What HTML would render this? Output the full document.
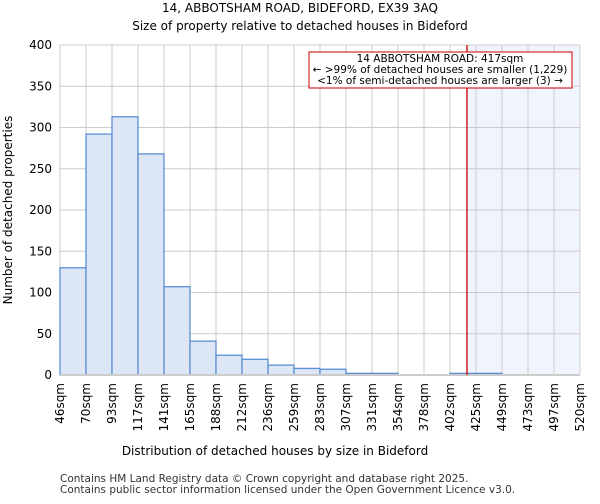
<!DOCTYPE html>
<html><head><meta charset="utf-8"><style>
body{margin:0;background:#fff;font-family:"DejaVu Sans","Liberation Sans",sans-serif;}
</style></head><body>
<svg width="600" height="500" xmlns="http://www.w3.org/2000/svg" font-family="DejaVu Sans, Liberation Sans, sans-serif">
<text x="300" y="12" text-anchor="middle" font-size="12">14, ABBOTSHAM ROAD, BIDEFORD, EX39 3AQ</text>
<text x="300" y="30" text-anchor="middle" font-size="12">Size of property relative to detached houses in Bideford</text>
<g id="plot"></g>
<text x="275" y="455" text-anchor="middle" font-size="12">Distribution of detached houses by size in Bideford</text>
<text transform="translate(12,210) rotate(-90)" text-anchor="middle" font-size="12">Number of detached properties</text>
<text x="60" y="482" font-size="10.5" fill="#333">Contains HM Land Registry data © Crown copyright and database right 2025.</text>
<text x="60" y="493" font-size="10.5" fill="#333">Contains public sector information licensed under the Open Government Licence v3.0.</text>
</svg>
<script>
const categories=["46sqm","70sqm","93sqm","117sqm","141sqm","165sqm","188sqm","212sqm","236sqm","259sqm","283sqm","307sqm","331sqm","354sqm","378sqm","402sqm","425sqm","449sqm","473sqm","497sqm","520sqm"];
const counts=[130,292,313,268,107,41,24,19,12,8,7,2,2,0,0,2,2,0,0,0];
const yTicks=[0,50,100,150,200,250,300,350,400];
const binEdges=[46,70,93,117,141,165,188,212,236,259,283,307,331,354,378,402,425,449,473,497,520];
const propertySize=417;
const NS="http://www.w3.org/2000/svg";
const g=document.getElementById('plot');
const X0=60,X1=580,Y0=375,Y1=45,yMax=400;
const bw=(X1-X0)/counts.length;
const xi=i=>X0+i*bw;
const y=v=>Y0-(v/yMax)*(Y0-Y1);
function sizeX(s){for(let i=0;i<binEdges.length-1;i++){if(s>=binEdges[i]&&s<=binEdges[i+1])return xi(i)+(s-binEdges[i])/(binEdges[i+1]-binEdges[i])*bw;}return X1;}
function mk(t,a){const e=document.createElementNS(NS,t);for(const k in a)e.setAttribute(k,a[k]);g.appendChild(e);return e;}
const px=sizeX(propertySize);
let e=mk('rect',{x:px,y:Y1,width:X1-px,height:Y0-Y1,fill:'#f0f4fc'});


for(const t of yTicks){e=mk('line',{x1:X0,x2:X1,y1:y(t),y2:y(t),stroke:'#ccc','stroke-width':1});


e=mk('text',{x:X0-8,y:y(t)+4,'text-anchor':'end','font-size':12});e.textContent=t;

}
for(let i=0;i<categories.length;i++){e=mk('line',{x1:xi(i),x2:xi(i),y1:Y1,y2:Y0,stroke:'#ccc','stroke-width':1});


e=mk('text',{transform:`translate(${xi(i)+4},${Y0+8}) rotate(-90)`,'text-anchor':'end','font-size':12});e.textContent=categories[i];

}
counts.forEach((c,i)=>{if(c<=0)return;e=mk('rect',{x:xi(i),y:y(c),width:bw,height:Y0-y(c),fill:'#dce6f4',stroke:'#5b8fd4','stroke-width':1.3});

});
e=mk('line',{x1:X0,x2:X1,y1:Y0,y2:Y0,stroke:'#ccc','stroke-width':2});


e=mk('line',{x1:px,x2:px,y1:Y1,y2:Y0,stroke:'#c00','stroke-width':1.3});


e=mk('rect',{x:309,y:52,width:263,height:36,fill:'#fff',stroke:'#c00','stroke-width':1});


const lines=["14 ABBOTSHAM ROAD: "+propertySize+"sqm","← >99% of detached houses are smaller (1,229)","<1% of semi-detached houses are larger (3) →"];
lines.forEach((l,i)=>{e=mk('text',{x:440,y:62+i*11,'text-anchor':'middle','font-size':10.5});e.textContent=l;

});
</script>
</body></html>
